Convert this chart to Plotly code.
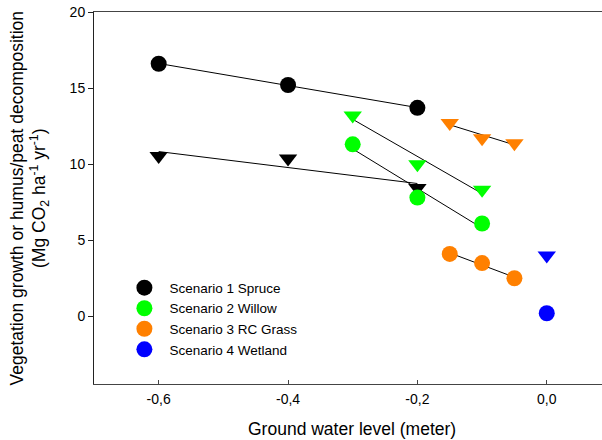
import numpy as np
import plotly.graph_objects as go

# ---- data ----
spruce_x = [-0.6, -0.4, -0.2]
spruce_circle = [16.6, 15.2, 13.7]
spruce_tri = [10.53, 10.37, 8.43]

willow_x = [-0.3, -0.2, -0.1]
willow_circle = [11.3, 7.8, 6.1]
willow_tri = [13.2, 10.0, 8.32]

grass_x = [-0.15, -0.1, -0.05]
grass_circle = [4.1, 3.5, 2.5]
grass_tri = [12.7, 11.7, 11.38]

wetland_x = [0.0]
wetland_circle = [0.2]
wetland_tri = [4.0]

names = ["Scenario 1 Spruce", "Scenario 2 Willow", "Scenario 3 RC Grass", "Scenario 4 Wetland"]
colors = ["#000000", "#00FF00", "#FF8000", "#0000FF"]

x_tickvals = [-0.6, -0.4, -0.2, 0.0]
x_ticktext = ["-0,6", "-0,4", "-0,2", "0,0"]
y_tickvals = [0, 5, 10, 15, 20]

FONT = "Liberation Sans, Arial, sans-serif"

fig = go.Figure()

# regression lines
for xs, ys in [(spruce_x, spruce_circle), (spruce_x, spruce_tri),
               (willow_x, willow_circle), (willow_x, willow_tri),
               (grass_x, grass_circle), (grass_x, grass_tri)]:
    k, b = np.polyfit(xs, ys, 1)
    lx = [min(xs), max(xs)]
    fig.add_trace(go.Scatter(x=lx, y=[k * v + b for v in lx], mode="lines",
                             line=dict(color="black", width=1), showlegend=False,
                             hoverinfo="skip"))

groups = [(spruce_x, spruce_circle, spruce_tri),
          (willow_x, willow_circle, willow_tri),
          (grass_x, grass_circle, grass_tri),
          (wetland_x, wetland_circle, wetland_tri)]

for (xs, circ, tri), name, col in zip(groups, names, colors):
    fig.add_trace(go.Scatter(x=xs, y=tri, mode="markers", showlegend=False,
                             marker=dict(symbol="triangle-down", size=16, color=col,
                                         line=dict(width=0))))
    fig.add_trace(go.Scatter(x=xs, y=circ, mode="markers", name=name,
                             marker=dict(symbol="circle", size=16, color=col,
                                         line=dict(width=0))))

fig.update_layout(
    width=602, height=440,
    margin=dict(l=94, r=0, t=12, b=56, autoexpand=False),
    paper_bgcolor="white", plot_bgcolor="white",
    font=dict(family=FONT, size=14, color="black"),
    showlegend=True,
    legend=dict(x=0.050, y=0.300, xanchor="left", yanchor="top",
                font=dict(size=13.5), bgcolor="rgba(0,0,0,0)",
                tracegroupgap=0, itemwidth=40),
    xaxis=dict(range=[-0.7, 0.0854], tickvals=x_tickvals, ticktext=x_ticktext,
               showgrid=False, zeroline=False, showline=True, linecolor="#444",
               linewidth=1, mirror=True, ticks="inside", ticklen=4,
               tickcolor="#444", tickfont=dict(size=14), ticklabelstandoff=2,
               ticklabeloverflow="allow", automargin=False),
    yaxis=dict(range=[-4.45, 20], tickvals=y_tickvals, showgrid=False,
               zeroline=False, showline=True, linecolor="#222", linewidth=1,
               ticks="outside", ticklen=5, tickcolor="#222",
               tickfont=dict(size=14), ticklabeloverflow="allow",
               automargin=False),
    annotations=[
        dict(text="Ground water level (meter)", xref="paper", yref="paper",
             x=(352 - 94) / 508, y=(384 - 429) / 372, xanchor="center",
             yanchor="middle", showarrow=False, font=dict(size=17.5)),
        dict(text="Vegetation growth or humus/peat decomposition<br>"
                  "(Mg CO<sub>2</sub> ha<sup>-1</sup> yr<sup>-1</sup>)",
             xref="paper", yref="paper", x=(28.5 - 94) / 508, y=0.5,
             xanchor="center", yanchor="middle", textangle=-90,
             showarrow=False, font=dict(size=17.5)),
    ],
)

# remove the page's default 8px body margin so the figure fills the window
fig.write_html("out.html", config={"displayModeBar": False},
               post_script="document.body.style.margin='0px';")
